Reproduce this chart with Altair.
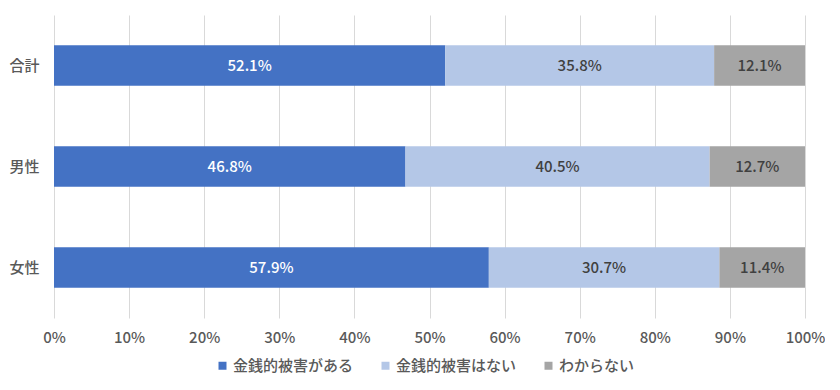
import altair as alt
import pandas as pd

categories = ["合計", "男性", "女性"]
series = ["金銭的被害がある", "金銭的被害はない", "わからない"]
v_aru = [52.1, 46.8, 57.9]
v_nai = [35.8, 40.5, 30.7]
v_wakaranai = [12.1, 12.7, 11.4]
colors = ["#4472C4", "#B4C7E7", "#A5A5A5"]
x_ticks = [0, 10, 20, 30, 40, 50, 60, 70, 80, 90, 100]

rows = []
for i, c in enumerate(categories):
    for j, (s, vals) in enumerate(zip(series, [v_aru, v_nai, v_wakaranai])):
        rows.append({"category": c, "series": s, "value": vals[i], "order": j})
df = pd.DataFrame(rows)

FONT = "Noto Sans CJK JP"
W = 500

base = alt.Chart(df).transform_stack(
    stack="value", groupby=["category"], as_=["x0", "x1"],
    sort=[alt.SortField("order", order="ascending")]
).transform_calculate(
    mid="(datum.x0 + datum.x1) / 2",
    label="format(datum.value, '.1f') + '%'"
)

y_enc = alt.Y("category:N", sort=categories, title=None,
              scale=alt.Scale(paddingInner=0.6, paddingOuter=0.3),
              axis=alt.Axis(ticks=False, domain=False, labelPadding=15,
                            labelFontSize=15, labelColor="#595959", labelFont=FONT,
                            labelFontWeight=W, grid=False))

bars = base.mark_bar().encode(
    x=alt.X("x0:Q", scale=alt.Scale(domain=[0, 100], nice=False), title=None,
            axis=alt.Axis(values=x_ticks, labelExpr="datum.value + '%'",
                          ticks=False, domain=False, labelPadding=12, labelFlush=False,
                          labelFontSize=15, labelColor="#595959", labelFont=FONT,
                          labelFontWeight=W,
                          grid=True, gridColor="#D9D9D9", gridWidth=1)),
    x2="x1:Q",
    y=y_enc,
    color=alt.Color("series:N", sort=series,
                    scale=alt.Scale(domain=series, range=colors),
                    legend=alt.Legend(title=None, orient="none", direction="horizontal",
                                      legendX=161, legendY=343,
                                      symbolType="square", symbolSize=64,
                                      symbolStrokeWidth=0,
                                      labelFontSize=15, labelColor="#595959",
                                      labelFont=FONT, labelFontWeight=W, labelOffset=3,
                                      columnPadding=24, padding=0)),
)

texts = base.mark_text(fontSize=15, font=FONT, fontWeight=W, baseline="middle", align="center").encode(
    x=alt.X("mid:Q"),
    y=alt.Y("category:N", sort=categories),
    text="label:N",
    color=alt.condition(alt.datum.series == series[0], alt.value("white"), alt.value("#404040")),
)

chart = alt.layer(bars, texts).properties(
    width=751, height=303,
    autosize=alt.AutoSizeParams(type="none"),
    padding={"left": 46, "top": 7, "right": 20, "bottom": 60},
    background="white",
).configure_view(stroke=None)

chart.save("out.html", embed_options={"renderer": "svg", "actions": False})
